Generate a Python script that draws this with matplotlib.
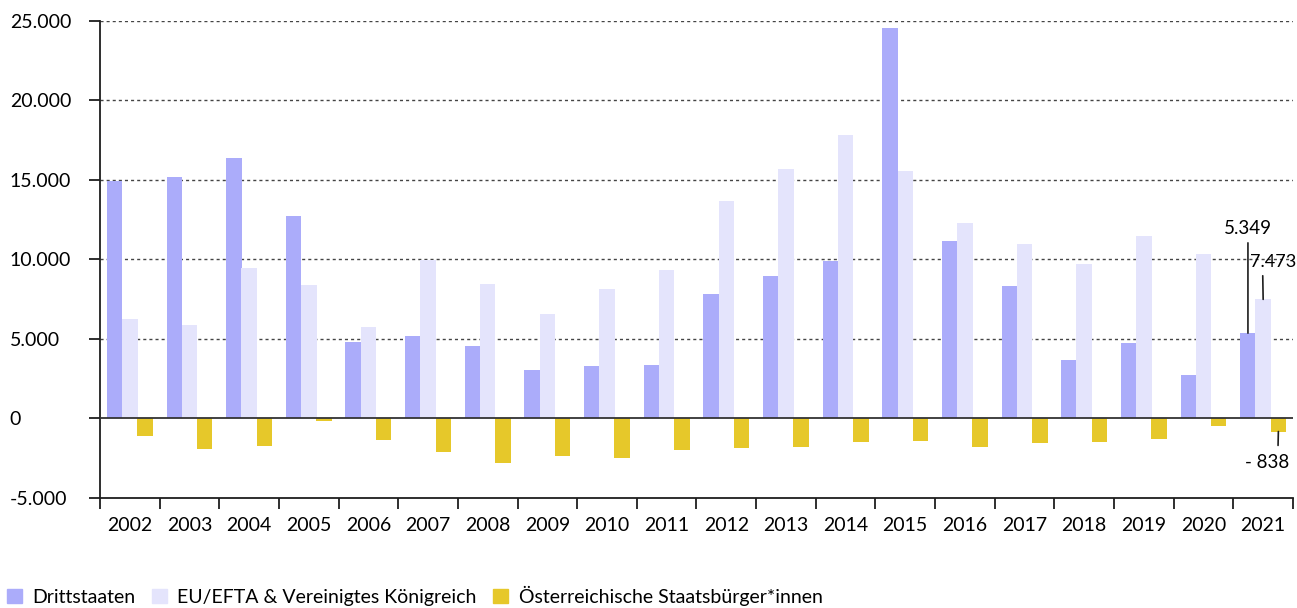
import matplotlib
matplotlib.use("Agg")
import matplotlib.pyplot as plt
from matplotlib.patches import Patch
from matplotlib.ticker import FuncFormatter
import numpy as np

# Wanderungssaldo nach Staatsangehörigkeit, 2002-2021
years = [str(y) for y in range(2002, 2022)]
drittstaaten = [14900, 15150, 16350, 12700, 4820, 5140, 4510, 3000, 3310, 3370,
                7790, 8920, 9870, 24560, 11130, 8290, 3690, 4700, 2740, 5349]
eu_efta = [6210, 5830, 9430, 8350, 5710, 9930, 8420, 6530, 8100, 9300,
           13650, 15670, 17810, 15540, 12260, 10940, 9680, 11440, 10310, 7473]
oesterreich = [-1110, -1950, -1760, -190, -1380, -2140, -2830, -2390, -2520, -2010,
               -1890, -1820, -1510, -1450, -1820, -1570, -1510, -1320, -500, -838]
series_labels = ["Drittstaaten", "EU/EFTA & Vereinigtes Königreich",
                 "Österreichische Staatsbürger*innen"]
y_ticks = [-5000, 0, 5000, 10000, 15000, 20000, 25000]

C_DRITT = "#ABACFA"
C_EU = "#E4E4FC"
C_AT = "#E6C82A"
INK = "#1e1e1e"
FS = 14

plt.rcParams["font.family"] = ["Lato", "DejaVu Sans"]
plt.rcParams["font.size"] = FS


def de_fmt(v):
    return f"{v:,.0f}".replace(",", ".")


fig = plt.figure(figsize=(12.97, 6.08), dpi=100)
ax = fig.add_axes([0.0771, 0.1814, 0.9198, 0.7846])

x = np.arange(len(years))
w = 0.26
off = 0.255
ax.bar(x - off, drittstaaten, w, color=C_DRITT, zorder=2)
ax.bar(x, eu_efta, w, color=C_EU, zorder=2)
ax.bar(x + off, oesterreich, w, color=C_AT, zorder=2)

ax.set_xlim(-0.5, len(years) - 0.5)
ax.set_ylim(y_ticks[0], y_ticks[-1])

# gepunktete Hilfslinien, Nulllinie durchgezogen
for t in y_ticks[2:]:
    ax.axhline(t, color="#444444", lw=1.0, ls=(0, (2.2, 2.2)), zorder=1)
ax.axhline(0, color="#333333", lw=1.3, zorder=3)

for s in ["top", "right"]:
    ax.spines[s].set_visible(False)
for s in ["left", "bottom"]:
    ax.spines[s].set_color(INK)
    ax.spines[s].set_linewidth(1.3)

ax.set_yticks(y_ticks)
ax.yaxis.set_major_formatter(FuncFormatter(lambda v, p: de_fmt(v)))
ax.tick_params(axis="y", length=8, width=1.3, color=INK, pad=57, labelsize=FS)
for lab in ax.get_yticklabels():
    lab.set_horizontalalignment("left")

# Striche an den Kategoriegrenzen, Jahreszahlen mittig
ax.set_xticks(np.arange(-0.5, len(years), 1.0))
ax.set_xticklabels([])
ax.set_xticks(x, minor=True)
ax.set_xticklabels(years, minor=True)
ax.tick_params(axis="x", which="major", length=8, width=1.3, color=INK)
ax.tick_params(axis="x", which="minor", length=0, pad=14, labelsize=FS)

# Werte für 2021 mit Hinweislinien
line = dict(arrowstyle="-", color=INK, lw=1.2)
i = len(years) - 1
ax.annotate(de_fmt(drittstaaten[i]), xy=(x[i] - off, drittstaaten[i]),
            xytext=(0, 69), textcoords="offset points", ha="center", va="bottom",
            fontsize=13.5,
            arrowprops=dict(line, relpos=(0.5, 0), shrinkA=2, shrinkB=0),
            annotation_clip=False, zorder=4)
ax.annotate(de_fmt(eu_efta[i]), xy=(x[i], eu_efta[i]),
            xytext=(7.3, 21), textcoords="offset points", ha="center", va="bottom",
            fontsize=13,
            arrowprops=dict(line, relpos=(0.27, 0), shrinkA=2, shrinkB=0),
            annotation_clip=False, zorder=4)
ax.annotate("- " + de_fmt(-oesterreich[i]), xy=(x[i] + off, oesterreich[i]),
            xytext=(-8, -16), textcoords="offset points", ha="center", va="top",
            fontsize=13.5,
            arrowprops=dict(line, relpos=(0.74, 1), shrinkA=4, shrinkB=0),
            annotation_clip=False, zorder=4)

handles = [Patch(color=c) for c in (C_DRITT, C_EU, C_AT)]
fig.legend(handles, series_labels, loc="lower left", bbox_to_anchor=(0.004, 0.0),
           ncol=3, frameon=False, fontsize=FS, handlelength=0.75, handleheight=0.75,
           handletextpad=0.55, columnspacing=0.85, borderpad=0.1, borderaxespad=0)

fig.savefig("out.png", dpi=100)
